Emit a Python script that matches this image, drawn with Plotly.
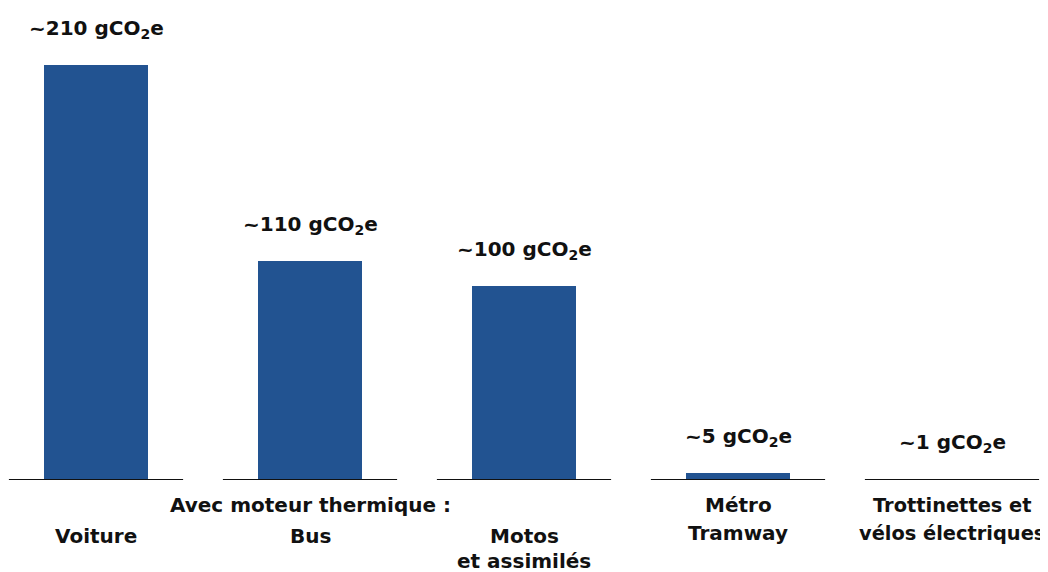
import plotly.graph_objects as go

# Data
categories = ["Voiture", "Bus", "Motos et assimilés", "Métro Tramway", "Trottinettes et vélos électriques"]
values = [210, 111, 98, 3.5, 0.5]
value_labels = ["~210 gCO<sub>2</sub>e", "~110 gCO<sub>2</sub>e", "~100 gCO<sub>2</sub>e", "~5 gCO<sub>2</sub>e", "~1 gCO<sub>2</sub>e"]
# category label lines: (text, pixel offset below baseline)
cat_lines = [
    [("Voiture", 56)],
    [("Avec moteur thermique :", 25), ("Bus", 56)],
    [("Motos", 56), ("et assimilés", 81)],
    [("Métro", 25), ("Tramway", 53)],
    [("Trottinettes et", 25), ("vélos électriques", 53)],
]

BAR_COLOR = "#225391"
FONT = "DejaVu Sans"
x = list(range(len(categories)))

# page body has an 8px margin: figure is 1040x564 so it fits the 1048x572 window
W, H = 1040, 564
X0 = 88          # pixel of first category centre (figure coords)
STEP = 214       # pixels per category
BASE = 472       # baseline pixel (figure coords)
PPU = 1.976      # pixels per gCO2e

fig = go.Figure()
fig.add_trace(go.Bar(x=x, y=values, width=0.486, marker=dict(color=BAR_COLOR, line=dict(width=0)),
                     hoverinfo="skip", showlegend=False))

# baseline segments under each category
for i in x:
    fig.add_shape(type="line", xref="x", yref="y", x0=i - 0.407, x1=i + 0.407, y0=0, y1=0,
                  line=dict(color="#111111", width=2), layer="above")

# value labels above bars
for i, (v, t) in enumerate(zip(values, value_labels)):
    fig.add_annotation(x=i, y=v, xref="x", yref="y", text=f"<b>{t}</b>", showarrow=False,
                       yanchor="middle", yshift=36, font=dict(family=FONT, size=20, color="#111111"))

# category labels below baseline (last column slightly narrower to fit the edge)
for i, lines in enumerate(cat_lines):
    for text, off in lines:
        size = 19.4 if i == len(categories) - 1 else 20
        fig.add_annotation(x=i, y=0, xref="x", yref="y", text=f"<b>{text}</b>", showarrow=False,
                           yanchor="middle", yshift=-off, borderpad=0,
                           font=dict(family=FONT, size=size, color="#111111"))

fig.update_layout(
    width=W, height=H,
    margin=dict(l=0, r=0, t=0, b=H - BASE),
    paper_bgcolor="white", plot_bgcolor="white",
    xaxis=dict(range=[-X0 / STEP, (W - X0) / STEP], visible=False, fixedrange=True),
    yaxis=dict(range=[0, BASE / PPU], visible=False, fixedrange=True),
    bargap=0,
)

fig.write_html("out.html")
